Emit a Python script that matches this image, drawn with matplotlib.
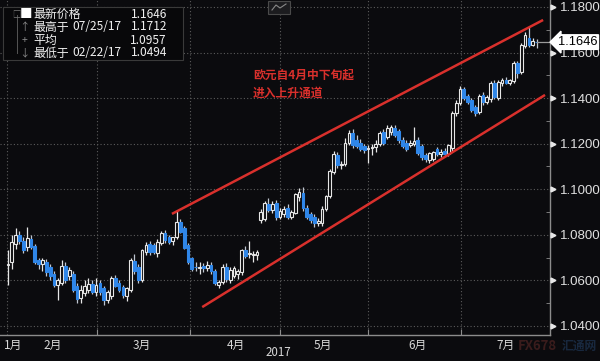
import matplotlib
matplotlib.use('Agg')
import matplotlib.pyplot as plt
import matplotlib.transforms as mtransforms
from matplotlib.patches import Rectangle
from matplotlib.lines import Line2D

plt.rcParams['font.family'] = ['Noto Sans CJK SC', 'DejaVu Sans']

# ---------------- data (EUR/USD daily candles) ----------------
opens = [1.0668, 1.0681, 1.0760, 1.0800, 1.0775, 1.0745, 1.0780, 1.0750, 1.0690, 1.0672,
         1.0680, 1.0660, 1.0630, 1.0580, 1.0590, 1.0664, 1.0620, 1.0630, 1.0575, 1.0522,
         1.0545, 1.0560, 1.0585, 1.0550, 1.0590, 1.0565, 1.0515, 1.0530, 1.0610, 1.0590,
         1.0570, 1.0530, 1.0560, 1.0685, 1.0660, 1.0600, 1.0725, 1.0760, 1.0755, 1.0720,
         1.0765, 1.0808, 1.0790, 1.0775, 1.0790, 1.0855, 1.0830, 1.0755, 1.0700, 1.0660,
         1.0655, 1.0662, 1.0655, 1.0668, 1.0640, 1.0580, 1.0595, 1.0660, 1.0600, 1.0620,
         1.0630, 1.0635, 1.0733, 1.0715, 1.0712, 1.0710, 1.0865, 1.0870, 1.0935, 1.0910,
         1.0940, 1.0880, 1.0890, 1.0920, 1.0880, 1.0895, 1.0965, 1.0985, 1.0920, 1.0890,
         1.0880, 1.0850, 1.0850, 1.0915, 1.0970, 1.1075, 1.1150, 1.1105, 1.1110, 1.1205,
         1.1245, 1.1215, 1.1205, 1.1190, 1.1175, 1.1180, 1.1185, 1.1200, 1.1250, 1.1230,
         1.1250, 1.1270, 1.1255, 1.1215, 1.1205, 1.1195, 1.1200, 1.1215, 1.1190, 1.1150,
         1.1130, 1.1135, 1.1175, 1.1155, 1.1170, 1.1155, 1.1180, 1.1335, 1.1380, 1.1440,
         1.1410, 1.1390, 1.1360, 1.1340, 1.1412, 1.1385, 1.1395, 1.1465, 1.1400, 1.1465,
         1.1480, 1.1468, 1.1475, 1.1555, 1.1515, 1.1630, 1.1664, 1.1635, 1.1648]
highs = [1.0733, 1.0800, 1.0830, 1.0815, 1.0790, 1.0835, 1.0800, 1.0760, 1.0700, 1.0700,
         1.0695, 1.0670, 1.0640, 1.0610, 1.0690, 1.0680, 1.0660, 1.0640, 1.0590, 1.0580,
         1.0600, 1.0610, 1.0600, 1.0610, 1.0600, 1.0575, 1.0560, 1.0620, 1.0625, 1.0600,
         1.0580, 1.0570, 1.0700, 1.0715, 1.0670, 1.0740, 1.0770, 1.0775, 1.0765, 1.0780,
         1.0815, 1.0820, 1.0800, 1.0790, 1.0906, 1.0870, 1.0840, 1.0765, 1.0705, 1.0680,
         1.0680, 1.0675, 1.0685, 1.0680, 1.0650, 1.0600, 1.0670, 1.0675, 1.0660, 1.0665,
         1.0650, 1.0740, 1.0750, 1.0775, 1.0730, 1.0735, 1.0915, 1.0950, 1.0960, 1.0950,
         1.0955, 1.0920, 1.0925, 1.0935, 1.0910, 1.0985, 1.1005, 1.1010, 1.0930, 1.0900,
         1.0890, 1.0872, 1.0925, 1.0975, 1.1090, 1.1170, 1.1165, 1.1125, 1.1225, 1.1262,
         1.1265, 1.1240, 1.1220, 1.1200, 1.1195, 1.1200, 1.1215, 1.1255, 1.1265, 1.1280,
         1.1282, 1.1280, 1.1265, 1.1230, 1.1215, 1.1215, 1.1275, 1.1230, 1.1200, 1.1160,
         1.1165, 1.1170, 1.1185, 1.1175, 1.1180, 1.1200, 1.1345, 1.1390, 1.1455, 1.1450,
         1.1420, 1.1400, 1.1370, 1.1420, 1.1425, 1.1415, 1.1475, 1.1480, 1.1480, 1.1490,
         1.1492, 1.1485, 1.1565, 1.1565, 1.1640, 1.1690, 1.1712, 1.1665, 1.1660]
lows = [1.0580, 1.0650, 1.0740, 1.0760, 1.0720, 1.0730, 1.0740, 1.0670, 1.0650, 1.0640,
        1.0620, 1.0600, 1.0570, 1.0515, 1.0580, 1.0590, 1.0600, 1.0550, 1.0500, 1.0500,
        1.0530, 1.0545, 1.0540, 1.0530, 1.0535, 1.0494, 1.0500, 1.0520, 1.0570, 1.0550,
        1.0525, 1.0510, 1.0550, 1.0630, 1.0590, 1.0595, 1.0710, 1.0710, 1.0715, 1.0705,
        1.0755, 1.0765, 1.0760, 1.0755, 1.0780, 1.0810, 1.0740, 1.0670, 1.0640, 1.0640,
        1.0630, 1.0635, 1.0640, 1.0630, 1.0580, 1.0565, 1.0585, 1.0595, 1.0590, 1.0610,
        1.0605, 1.0625, 1.0700, 1.0700, 1.0680, 1.0690, 1.0850, 1.0860, 1.0900, 1.0895,
        1.0865, 1.0870, 1.0880, 1.0870, 1.0870, 1.0890, 1.0950, 1.0905, 1.0870, 1.0850,
        1.0835, 1.0838, 1.0840, 1.0905, 1.0960, 1.1065, 1.1095, 1.1090, 1.1100, 1.1195,
        1.1180, 1.1180, 1.1170, 1.1160, 1.1115, 1.1150, 1.1165, 1.1190, 1.1195, 1.1220,
        1.1240, 1.1230, 1.1205, 1.1180, 1.1170, 1.1185, 1.1190, 1.1150, 1.1130, 1.1120,
        1.1115, 1.1125, 1.1145, 1.1140, 1.1145, 1.1145, 1.1170, 1.1320, 1.1370, 1.1390,
        1.1375, 1.1340, 1.1320, 1.1330, 1.1370, 1.1375, 1.1385, 1.1395, 1.1390, 1.1455,
        1.1460, 1.1458, 1.1465, 1.1490, 1.1505, 1.1620, 1.1625, 1.1628, 1.1620]
closes = [1.0672, 1.0770, 1.0800, 1.0772, 1.0735, 1.0785, 1.0748, 1.0682, 1.0670, 1.0690,
          1.0636, 1.0620, 1.0580, 1.0600, 1.0664, 1.0602, 1.0645, 1.0560, 1.0520, 1.0558,
          1.0575, 1.0585, 1.0550, 1.0580, 1.0550, 1.0515, 1.0550, 1.0610, 1.0575, 1.0560,
          1.0535, 1.0565, 1.0690, 1.0640, 1.0600, 1.0733, 1.0755, 1.0725, 1.0725, 1.0770,
          1.0808, 1.0778, 1.0768, 1.0790, 1.0855, 1.0813, 1.0742, 1.0680, 1.0648, 1.0658,
          1.0660, 1.0656, 1.0668, 1.0640, 1.0590, 1.0592, 1.0660, 1.0605, 1.0645, 1.0655,
          1.0640, 1.0733, 1.0708, 1.0720, 1.0718, 1.0725, 1.0900, 1.0940, 1.0910, 1.0935,
          1.0880, 1.0905, 1.0915, 1.0880, 1.0900, 1.0980, 1.0990, 1.0920, 1.0880, 1.0865,
          1.0850, 1.0862, 1.0915, 1.0970, 1.1080, 1.1155, 1.1105, 1.1110, 1.1205, 1.1245,
          1.1195, 1.1190, 1.1178, 1.1172, 1.1180, 1.1185, 1.1200, 1.1245, 1.1205, 1.1270,
          1.1275, 1.1240, 1.1215, 1.1190, 1.1178, 1.1205, 1.1210, 1.1160, 1.1140, 1.1135,
          1.1160, 1.1162, 1.1155, 1.1165, 1.1155, 1.1195, 1.1335, 1.1380, 1.1440, 1.1400,
          1.1385, 1.1350, 1.1335, 1.1410, 1.1385, 1.1405, 1.1465, 1.1405, 1.1470, 1.1480,
          1.1468, 1.1478, 1.1555, 1.1511, 1.1634, 1.1677, 1.1633, 1.1650, 1.1646]

month_labels = ['1月', '2月', '3月', '4月', '5月', '6月', '7月']
year_label = '2017'
y_ticks = [1.04, 1.06, 1.08, 1.10, 1.12, 1.14, 1.16, 1.18]

legend_icons = ['■', '↑', '+', '↓']
legend_names = ['最新价格', '最高于', '平均', '最低于']
legend_dates = ['', '07/25/17', '', '02/22/17']
legend_values = ['1.1646', '1.1712', '1.0957', '1.0494']

annotation_lines = ['欧元自4月中下旬起', '进入上升通道']

channel_upper_x = [42.8, 139.7]
channel_upper_y = [1.0892, 1.1743]
channel_lower_x = [50.7, 140.2]
channel_lower_y = [1.0483, 1.1414]

last_price = 1.1646

# ---------------- layout ----------------
W, H = 600, 361
BG = '#0b0b0e'
BLUE = '#2f86e8'
WHITE = '#e6e6e6'
GRID = '#5c5c5c'
AXIS = '#8c8c8c'
RED = '#d9302c'

month_pos = [1.3, 11.7, 34.9, 59.5, 82.2, 107.0, 130.0]
grid_x = [-0.3, 23.2, 47.5, 71.0, 94.0, 118.3]
year_pos = 70.5


def px(x, y):
    return x / W, 1 - y / H


fig = plt.figure(figsize=(W / 100, H / 100), dpi=100)
fig.patch.set_facecolor(BG)
ax = fig.add_axes([0, (H - 335) / H, 550 / W, 335 / H])
ax.set_facecolor(BG)

n = len(closes)
xs = list(range(n))
ax.set_xlim(-2.09, 141.5)
ax.set_ylim(1.03605, 1.18307)

# grid
for gy in y_ticks:
    ax.axhline(gy, color=GRID, lw=0.8, ls=(0, (1, 2)), zorder=0)
for gx in grid_x:
    ax.axvline(gx, color=GRID, lw=0.8, ls=(0, (1, 2)), zorder=0)

# candles
up = [c >= o for o, c in zip(opens, closes)]
wick_colors = [WHITE if u else '#bfc6d0' for u in up]
ax.vlines(xs, lows, highs, colors=wick_colors, lw=0.9, zorder=2)
bottoms = [min(o, c) for o, c in zip(opens, closes)]
heights = [max(abs(c - o), 0.00025) for o, c in zip(opens, closes)]
faces = [BG if u else BLUE for u in up]
edges = [WHITE if u else BLUE for u in up]
ax.bar(xs, heights, bottom=bottoms, width=0.72, color=faces, edgecolor=edges,
       linewidth=0.8, zorder=3)

# channel lines
ax.plot(channel_upper_x, channel_upper_y, color=RED, lw=1.8, zorder=4, solid_capstyle='butt')
ax.plot(channel_lower_x, channel_lower_y, color=RED, lw=1.8, zorder=4, solid_capstyle='butt')

# annotation
ax.text(64, 1.1502, annotation_lines[0], color=RED, fontsize=8.5, fontweight='bold',
        va='center', ha='left', zorder=5)
ax.text(64, 1.1423, annotation_lines[1], color=RED, fontsize=8.5, fontweight='bold',
        va='center', ha='left', zorder=5)

# spines / axes
for s in ['top', 'left']:
    ax.spines[s].set_visible(False)
ax.spines['right'].set_color(AXIS)
ax.spines['bottom'].set_color(AXIS)
ax.spines['right'].set_linewidth(1.0)
ax.spines['bottom'].set_linewidth(1.0)

ax.yaxis.tick_right()
ax.set_yticks(y_ticks)
ax.set_yticklabels(['%.4f' % t for t in y_ticks])
ax.set_yticks([t + 0.01 for t in y_ticks[:-1]], minor=True)
ax.tick_params(axis='y', which='major', length=0, pad=7, labelsize=8.3, labelcolor='#e0e0e0')
ax.tick_params(axis='y', which='minor', direction='in', length=3, color=AXIS)
for lab in ax.get_yticklabels():
    lab.set_family(['Liberation Sans Narrow', 'Liberation Sans', 'DejaVu Sans'])
    lab.set_fontsize(9.5)

# arrow tick markers on right axis
trans_r = mtransforms.blended_transform_factory(ax.transAxes, ax.transData)
ax.plot([1.006] * len(y_ticks), y_ticks, linestyle='none', marker='>', markersize=3.5,
        color='#e8e8e8', transform=trans_r, clip_on=False, zorder=6)

ax.set_xticks(grid_x[1:])
ax.set_xticklabels([])
ax.tick_params(axis='x', direction='in', length=4, color=AXIS)

trans_b = mtransforms.blended_transform_factory(ax.transData, ax.transAxes)
for lab, pos in zip(month_labels, month_pos):
    ax.text(pos, -0.012, lab, transform=trans_b, ha='center', va='top', color='#d8d8d8',
            fontsize=8.5, clip_on=False)
ax.text(year_pos, -0.051, year_label, transform=trans_b, ha='center', va='center',
        color='#d8d8d8', fontsize=8.3, clip_on=False)

# last price marker
ax.plot([n - 1, 141.5], [last_price, last_price], color='#9a9a9a', lw=0.9, zorder=4,
        clip_on=False)
ax.text(1.014, last_price, '%.4f' % last_price, transform=trans_r, ha='left', va='center',
        color='black', fontsize=9.3, family=['Liberation Sans Narrow', 'Liberation Sans'],
        bbox=dict(boxstyle='larrow,pad=0.1', fc='white', ec='white'), clip_on=False, zorder=7)

# legend box (top-left)
fig.patches.append(Rectangle(px(3, 60), 180 / W, 53 / H, transform=fig.transFigure,
                             facecolor='#08080a', edgecolor='#3a3a3a', lw=0.8, zorder=5))
fig.add_artist(Line2D([17 / W, 17 / W], [1 - 15 / H, 1 - 53 / H], transform=fig.transFigure,
                      color='#555555', lw=0.7, zorder=6))
row_y = [14, 27, 40, 53]
for i in range(4):
    yy = row_y[i]
    if i == 0:
        fig.text(*px(16, yy), '□', color='#777777', fontsize=6, va='center', ha='center', zorder=7)
        fig.text(*px(26, yy), legend_icons[i], color='white', fontsize=9, va='center', ha='center', zorder=7)
    else:
        fig.text(*px(24, yy), legend_icons[i], color='#8a8a8a', fontsize=7.5, va='center',
                 ha='center', zorder=7)
    fig.text(*px(33, yy), legend_names[i], color='#f0f0f0', fontsize=8.6, va='center',
             ha='left', zorder=7)
    if legend_dates[i]:
        fig.text(*px(72, yy), legend_dates[i], color='#f0f0f0', fontsize=8.6, va='center',
                 ha='left', zorder=7)
    fig.text(*px(167, yy), legend_values[i], color='#f0f0f0', fontsize=8.6, va='center',
             ha='right', zorder=7)

# toolbar icon at top
fig.patches.append(Rectangle(px(268, 14), 22 / W, 13 / H, transform=fig.transFigure,
                             facecolor='#1c1c1f', edgecolor='#4a4a4a', lw=0.8, zorder=5))
fig.add_artist(Line2D([272 / W, 276 / W, 280 / W, 286 / W], [1 - 10 / H, 1 - 5 / H, 1 - 8 / H, 1 - 4 / H],
                      transform=fig.transFigure, color='#888888', lw=0.8, zorder=6))

# faint watermark
fig.text(*px(518, 346), 'FX678', color='#3a1c1c', fontsize=9.5, fontweight='bold',
         va='center', ha='left', zorder=1)
fig.text(*px(562, 346), '汇通网', color='#18283e', fontsize=8.5, fontweight='bold',
         va='center', ha='left', zorder=1)

fig.savefig('out.png', dpi=100, facecolor=BG)
